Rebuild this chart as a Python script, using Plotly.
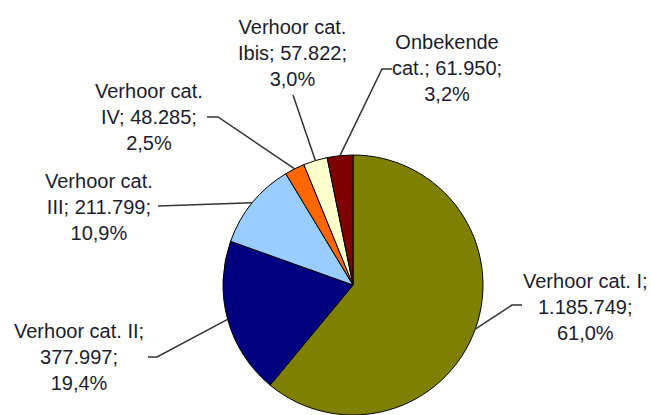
import math
import plotly.graph_objects as go

# ---- data ----
categories = ["Verhoor cat. I", "Verhoor cat. II", "Verhoor cat. III",
              "Verhoor cat. IV", "Verhoor cat. Ibis", "Onbekende cat."]
values = [1185749, 377997, 211799, 48285, 57822, 61950]
value_labels = ["1.185.749", "377.997", "211.799", "48.285", "57.822", "61.950"]
pct_labels = ["61,0%", "19,4%", "10,9%", "2,5%", "3,0%", "3,2%"]
label_lines = [
    ["Verhoor cat. I;", "1.185.749;", "61,0%"],
    ["Verhoor cat. II;", "377.997;", "19,4%"],
    ["Verhoor cat.", "III; 211.799;", "10,9%"],
    ["Verhoor cat.", "IV; 48.285;", "2,5%"],
    ["Verhoor cat.", "Ibis; 57.822;", "3,0%"],
    ["Onbekende", "cat.; 61.950;", "3,2%"],
]
colors = ["#808000", "#000080", "#99CCFF", "#FF6600", "#FFFFCC", "#800000"]

# ---- layout constants (pixels) ----
W, H = 651, 415
CX, CY, R = 353, 285, 130
# label text centre (x, middle-line y) and leader start/elbow points
label_pos = [(585, 307), (79, 357), (99, 207), (149, 117), (292, 53), (447, 68)]
leader_start = [[(522, 305), (512, 305)],
                [(148, 357), (157, 357)],
                [(158, 206)],
                [(207, 117), (218, 117)],
                [(293, 95)],
                [(392, 69), (382, 69)]]


def px(x):
    return x / W


def py(y):
    return 1 - y / H


fig = go.Figure()
fig.add_trace(go.Pie(
    labels=categories, values=values, sort=False, direction="clockwise",
    rotation=0, marker=dict(colors=colors, line=dict(color="#000000", width=1)),
    textinfo="none", hoverinfo="label+value+percent", showlegend=False,
    domain=dict(x=[px(CX - R), px(CX + R)], y=[0, py(CY - R)]),
))

total = sum(values)
cum = 0
shapes = []
annotations = []
for i, v in enumerate(values):
    mid = (cum + v / 2) / total
    cum += v
    ang = 2 * math.pi * mid
    ex = CX + R * math.sin(ang)
    ey = CY - R * math.cos(ang)
    pts = leader_start[i] + [(ex, ey)]
    path = "M " + " L ".join(f"{px(a):.5f},{py(b):.5f}" for a, b in pts)
    shapes.append(dict(type="path", path=path, xref="paper", yref="paper",
                       line=dict(color="#333333", width=1.5)))
    lx, ly = label_pos[i]
    annotations.append(dict(
        x=px(lx), y=py(ly), xref="paper", yref="paper",
        text="<br>".join(label_lines[i]), showarrow=False,
        xanchor="center", yanchor="middle", align="center",
        font=dict(family="Liberation Sans, Arial, sans-serif", size=20, color="#1c1c30"),
    ))

fig.update_layout(
    width=W, height=H, margin=dict(l=0, r=0, t=0, b=0),
    paper_bgcolor="white", plot_bgcolor="white",
    shapes=shapes, annotations=annotations,
)
fig.write_html("out.html", config={"displayModeBar": False},
               post_script="document.body.style.margin='0';document.body.style.overflow='hidden';")
